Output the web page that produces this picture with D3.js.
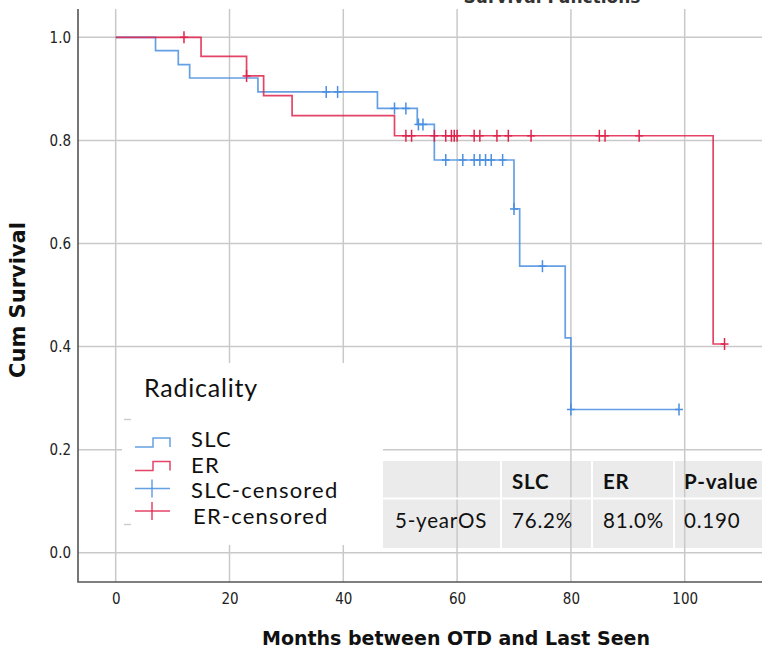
<!DOCTYPE html>
<html><head><meta charset="utf-8">
<script src="https://cdn.jsdelivr.net/npm/d3@7"></script>
<style>
html,body{margin:0;padding:0;background:#fff;}
svg{display:block;}
.tick text{font-family:"DejaVu Sans Condensed","DejaVu Sans",sans-serif;font-stretch:condensed;font-size:15px;fill:#222;}
</style></head>
<body><svg id="c" width="762" height="649"></svg>
<script>
// ---------- data ----------
const xTicks = [0, 20, 40, 60, 80, 100];
const yTicks = [0.0, 0.2, 0.4, 0.6, 0.8, 1.0];

const slcEventMonths = [0, 7, 11, 13, 25, 46, 53, 56, 70, 71, 79, 80];
const slcSurvival    = [1.0, 0.974, 0.947, 0.921, 0.894, 0.862, 0.831, 0.762, 0.667, 0.556, 0.417, 0.278];
const slcLastMonth   = 99;
const slcCensoredMonths = [37, 39, 49, 51, 53.2, 54, 58, 61, 63, 64, 65, 66, 68, 70, 75, 80, 99];

const erEventMonths = [0, 15, 23, 26, 31, 49, 105];
const erSurvival    = [1.0, 0.963, 0.925, 0.887, 0.848, 0.809, 0.405];
const erLastMonth   = 107;
const erCensoredMonths = [12, 23, 51, 52, 56, 58, 59, 59.5, 60, 63, 64, 67, 69, 73, 85, 86, 92, 107];

const legendLabels = ["SLC", "ER", "SLC-censored", "ER-censored"];
const tableHeader = ["", "SLC", "ER", "P-value"];
const tableRow = ["5-yearOS", "76.2%", "81.0%", "0.190"];

// ---------- setup ----------
const svg = d3.select("#c");
const x = d3.scaleLinear().domain([0, 100]).range([115.7, 684.7]);
const y = d3.scaleLinear().domain([0, 1]).range([552.8, 37.3]);
const axisX = 78, axisY = 582, plotTop = 9, plotRight = 762;
const BLUE = "#4a8fe0", RED = "#e0234c";
const gridC = "#c9c9c9";
const lato = "Lato, 'Open Sans', sans-serif";

// cut-off title at the very top
svg.append("text").attr("x", 552).attr("y", 3).attr("text-anchor", "middle")
  .attr("font-family", "'DejaVu Sans', sans-serif").attr("font-weight", "bold")
  .attr("font-size", 17).attr("fill", "#333").text("Survival Functions");

// table background (under gridlines)
const colEdges = [383, 501, 592, 674, 764];
const rowEdges = [461, 498.5, 548];
svg.append("rect").attr("x", colEdges[0]).attr("y", rowEdges[0])
  .attr("width", colEdges[4] - colEdges[0]).attr("height", rowEdges[2] - rowEdges[0])
  .attr("fill", "#ebebeb");

// gridlines
const grid = svg.append("g");
grid.selectAll("line.v").data(xTicks).join("line").attr("class", "v")
  .attr("x1", d => x(d)).attr("x2", d => x(d)).attr("y1", plotTop).attr("y2", axisY)
  .attr("stroke", gridC).attr("stroke-width", 1.5);
grid.selectAll("line.h").data(yTicks).join("line").attr("class", "h")
  .attr("x1", axisX).attr("x2", plotRight).attr("y1", d => y(d)).attr("y2", d => y(d))
  .attr("stroke", gridC).attr("stroke-width", 1.5);

// table separators (white)
const seps = svg.append("g");
colEdges.slice(1, 4).forEach(cx => {
  seps.append("line").attr("x1", cx).attr("x2", cx).attr("y1", rowEdges[0]).attr("y2", rowEdges[2])
    .attr("stroke", "#fff").attr("stroke-width", 2);
});
seps.append("line").attr("x1", colEdges[0]).attr("x2", plotRight).attr("y1", rowEdges[1]).attr("y2", rowEdges[1])
  .attr("stroke", "#fff").attr("stroke-width", 2);

// legend white box covering gridlines
svg.append("rect").attr("x", 122).attr("y", 363).attr("width", 261).attr("height", 182).attr("fill", "#fff");
svg.append("line").attr("x1", 124).attr("x2", 131).attr("y1", 419.5).attr("y2", 419.5).attr("stroke", "#ccc").attr("stroke-width", 1.5);
svg.append("line").attr("x1", 124).attr("x2", 131).attr("y1", 524.5).attr("y2", 524.5).attr("stroke", "#ccc").attr("stroke-width", 1.5);

// axes
const xAxis = svg.append("g").attr("transform", `translate(0,${axisY})`)
  .call(d3.axisBottom(x).tickValues(xTicks).tickSize(0).tickPadding(11).tickFormat(d3.format("d")));
xAxis.select(".domain").remove();
const yAxis = svg.append("g").attr("transform", `translate(${axisX},0)`)
  .call(d3.axisLeft(y).tickValues(yTicks).tickSize(0).tickPadding(7).tickFormat(d3.format(".1f")));
yAxis.select(".domain").remove();
svg.append("path").attr("d", `M${axisX},${plotTop}V${axisY}H${plotRight}`)
  .attr("fill", "none").attr("stroke", "#555").attr("stroke-width", 1.6);

// axis titles
svg.append("text").attr("x", 456).attr("y", 645).attr("text-anchor", "middle")
  .attr("font-family", "'DejaVu Sans',sans-serif")
  .attr("font-weight", "bold").attr("font-size", 19).attr("fill", "#111")
  .text("Months between OTD and Last Seen");
svg.append("text").attr("transform", "translate(25,300) rotate(-90)").attr("text-anchor", "middle")
  .attr("font-family", "'DejaVu Sans',sans-serif")
  .attr("font-weight", "bold").attr("font-size", 21).attr("fill", "#111")
  .text("Cum Survival");

// curves
function stepPoints(times, surv, last) {
  const pts = times.map((t, i) => [t, surv[i]]);
  pts.push([last, surv[surv.length - 1]]);
  return pts;
}
function survAt(times, surv, t) {
  let s = surv[0];
  for (let i = 0; i < times.length; i++) if (times[i] <= t) s = surv[i];
  return s;
}
const line = d3.line().x(d => x(d[0])).y(d => y(d[1])).curve(d3.curveStepAfter);
const series = [
  {times: slcEventMonths, surv: slcSurvival, last: slcLastMonth, cens: slcCensoredMonths, color: BLUE},
  {times: erEventMonths, surv: erSurvival, last: erLastMonth, cens: erCensoredMonths, color: RED}
];
series.forEach(s => {
  svg.append("path").datum(stepPoints(s.times, s.surv, s.last)).attr("d", line)
    .attr("fill", "none").attr("stroke", s.color).attr("stroke-width", 1.7).attr("stroke-opacity", 0.85);
  const g = svg.append("g");
  s.cens.forEach(t => {
    const cx = x(t), cy = y(survAt(s.times, s.surv, t));
    g.append("line").attr("x1", cx).attr("x2", cx).attr("y1", cy - 6).attr("y2", cy + 6)
      .attr("stroke", s.color).attr("stroke-width", 1.5);
    g.append("line").attr("x1", cx - 4).attr("x2", cx + 4).attr("y1", cy).attr("y2", cy)
      .attr("stroke", s.color).attr("stroke-width", 1.5);
  });
});

// legend
svg.append("text").attr("x", 144).attr("y", 397).attr("font-family", lato).attr("font-size", 25)
  .attr("letter-spacing", 0.8).attr("fill", "#111").text("Radicality");
const legY = [447, 473, 498, 524];
legendLabels.forEach((lab, i) => {
  svg.append("text").attr("x", i === 3 ? 193 : 191).attr("y", legY[i]).attr("font-family", lato)
    .attr("font-size", 22).attr("letter-spacing", 1.2).attr("fill", "#111").text(lab);
});
// step symbols
[[447, BLUE], [470.5, RED]].forEach(([by, c]) => {
  svg.append("path").attr("d", `M135,${by}H153V${by - 9}H170V${by}`)
    .attr("fill", "none").attr("stroke", c).attr("stroke-width", 1.5).attr("stroke-opacity", 0.85);
});
// censor symbols
[[488.5, BLUE], [511, RED]].forEach(([cy, c]) => {
  svg.append("line").attr("x1", 135).attr("x2", 170).attr("y1", cy).attr("y2", cy).attr("stroke", c).attr("stroke-width", 1.5).attr("stroke-opacity", 0.85);
  svg.append("line").attr("x1", 152).attr("x2", 152).attr("y1", cy - 9).attr("y2", cy + 9).attr("stroke", c).attr("stroke-width", 1.5).attr("stroke-opacity", 0.85);
});

// table text
const colX = [395, 512, 603, 684];
tableHeader.forEach((t, i) => {
  svg.append("text").attr("x", colX[i]).attr("y", 489).attr("font-family", lato).attr("font-weight", "bold")
    .attr("font-size", 20.5).attr("letter-spacing", 0.8).attr("fill", "#111").text(t);
});
tableRow.forEach((t, i) => {
  svg.append("text").attr("x", colX[i]).attr("y", 528).attr("font-family", lato)
    .attr("font-size", 20.5).attr("letter-spacing", 0.8).attr("fill", "#111").text(t);
});
</script></body></html>
